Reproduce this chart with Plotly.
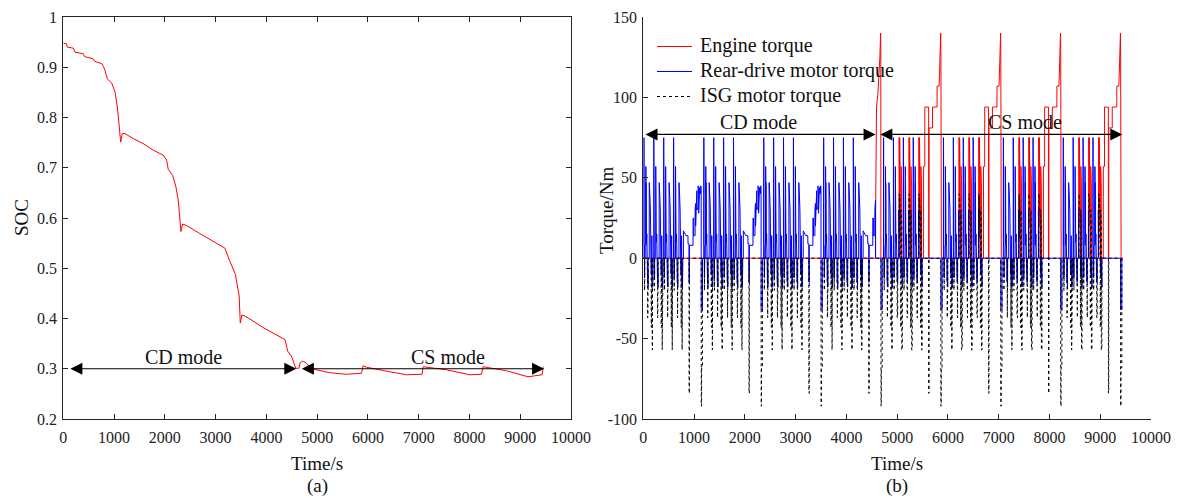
import plotly.graph_objects as go

W, H = 1187, 498
FONT = "Liberation Serif"
AX = "#262626"

# ---------------- (a) SOC data ----------------
SOC_T = [0, 60, 80, 200, 230, 390, 420, 585, 615, 760, 788, 821, 866, 952, 1018, 1064, 1103,
         1130, 1162, 1215, 1378, 1575, 1772, 1969, 2035, 2067, 2153, 2218, 2264, 2297, 2317,
         2350, 2429, 2691, 2953, 3183, 3276, 3389, 3464, 3486, 3517, 3577, 3953, 4292, 4367,
         4420, 4495, 4578, 4640, 4665, 4713, 4738, 4791, 4857, 4988, 5250, 5579, 5874, 5906,
         5972, 6431, 6760, 7067, 7087, 7547, 8006, 8236, 8268, 8728, 9154, 9430, 9455]
SOC_V = [0.948, 0.947, 0.940, 0.938, 0.930, 0.927, 0.921, 0.917, 0.912, 0.907, 0.902, 0.894,
         0.877, 0.869, 0.851, 0.821, 0.781, 0.751, 0.768, 0.768, 0.758, 0.748, 0.735, 0.725,
         0.715, 0.697, 0.685, 0.662, 0.636, 0.602, 0.573, 0.588, 0.585, 0.569, 0.553, 0.540,
         0.515, 0.488, 0.445, 0.391, 0.407, 0.405, 0.381, 0.361, 0.358, 0.335, 0.325, 0.301,
         0.301, 0.312, 0.315, 0.314, 0.311, 0.301, 0.298, 0.292, 0.289, 0.291, 0.306, 0.303,
         0.294, 0.288, 0.289, 0.304, 0.298, 0.288, 0.289, 0.304, 0.296, 0.284, 0.288, 0.303]

# ---------------- (b) torque data ----------------
# the run is 8 repeated drive cycles; one cycle = 4 urban segments + 1 extra-urban part
CYCLE_STARTS = [0, 1180, 2360, 3540, 4720, 5900, 7080, 8260]
SEG_STARTS = [0, 195, 390, 585]
EUDC_START = 780

# CD-mode urban segment
CD_SEG_BLUE_T = [0, 11, 12, 14, 15, 22, 23, 27, 28, 49, 50, 52, 53, 54, 55, 58, 60, 61, 70, 71,
                 78, 84, 85, 90, 95, 96, 117, 118, 120, 121, 122, 128, 129, 130, 131, 140, 143,
                 148, 149, 154, 155, 162, 163, 168, 169, 175, 176, 187, 188, 195]
CD_SEG_BLUE_V = [0, 0, 75, 70, 8, 8, -12, -12, 0, 0, 57, 52, 8, 8, 47, 40, 15, 10, 15, 6,
                 12, 10, -15, -8, -18, 0, 0, 47, 42, 10, 40, 30, 10, 10, 38, 30, 12,
                 18, 5, 12, -10, -10, 8, 14, 4, 8, -18, -18, 0, 0]
CD_SEG_ISG_T = [0, 23, 24, 27, 28, 85, 86, 90, 91, 95, 96, 155, 156, 162, 163, 176, 177, 180,
                181, 187, 188, 195]
CD_SEG_ISG_V = [0, 0, -20, -20, 0, 0, -37, -37, -22, -22, 0, 0, -43, -43, 0, 0, -57, -57, -18,
                -18, 0, 0]

# CD-mode extra-urban part
CD_EU_BLUE_T = [0, 10, 11, 60, 100, 101, 120, 121, 128, 129, 200, 201, 212, 213, 240, 241, 250,
                251, 260, 275, 276, 300, 301, 310, 311, 320, 330, 345, 355, 360, 361, 385, 386,
                400]
CD_EU_BLUE_V = [0, 0, 17, 14, 14, 9, 9, -15, -15, 8, 8, 25, 25, 14, 14, 30, 34, 20, 38, 42, 30,
                32, 45, 40, 28, 42, 44, 40, 45, 42, -32, -32, 0, 0]
EU_ISG_T = [0, 121, 122, 128, 129, 361, 362, 368, 369, 385, 386, 400]
EU_ISG_V = [0, 0, -84, -84, 0, 0, -92, -92, -68, -68, 0, 0]

# switch-over extra-urban part (cycle 4): engine starts when SOC reaches 0.3
SW_EU_BLUE_T = [0, 10, 11, 60, 100, 101, 120, 121, 128, 129, 200, 201, 212, 213, 240, 241, 254,
                255, 361, 362, 385, 386, 400]
SW_EU_BLUE_V = [0, 0, 17, 14, 14, 9, 9, -15, -15, 8, 8, 25, 25, 14, 14, 30, 36, 0, 0, -32, -32,
                0, 0]
SW_EU_ENG_T = [0, 255, 256, 274, 300, 320, 340, 354, 358, 360, 400]
SW_EU_ENG_V = [0, 0, 30, 94, 102, 112, 125, 140, 130, 0, 0]

# CS-mode urban segment (engine on)
CS_SEG_BLUE_T = [0, 11, 12, 14, 15, 22, 23, 27, 28, 49, 50, 52, 53, 54, 55, 58, 60, 61, 70, 71,
                 78, 84, 85, 95, 96, 117, 118, 124, 125, 155, 156, 162, 163, 176, 177, 187, 188,
                 195]
CS_SEG_BLUE_V = [0, 0, 75, 70, 8, 8, -12, -12, 0, 0, 57, 52, 8, 8, 47, 40, 15, 10, 15, 6,
                 12, 10, -15, -15, 0, 0, 30, 25, 0, 0, -10, -10, 0, 0, -18, -18, 0, 0]
CS_SEG_ENG_T = [0, 124, 125, 130, 131, 135, 140, 143, 154, 155, 162, 163, 170, 175, 176, 195]
CS_SEG_ENG_V = [0, 0, 75, 60, 20, 75, 57, 57, 44, 0, 0, 57, 50, 44, 0, 0]
CS_SEG_ISG_T = [0, 23, 24, 27, 28, 85, 86, 95, 96, 124, 125, 130, 131, 135, 143, 154, 155, 162,
                163, 175, 176, 187, 188, 195]
CS_SEG_ISG_V = [0, 0, -20, -20, 0, 0, -37, -37, 0, 0, 40, 27, 12, 38, 30, 27, -43, -43, 30, 20,
                -57, -57, 0, 0]

# CS-mode extra-urban part
CS_EU_ENG_T = [0, 20, 21, 44, 45, 120, 121, 128, 129, 196, 197, 286, 287, 326, 335, 345, 352,
               358, 362, 366, 370, 371, 400]
CS_EU_ENG_V = [0, 0, 57, 57, 94, 94, 0, 0, 81, 81, 94, 94, 107, 107, 115, 125, 135, 140, 125,
               57, 57, 0, 0]
CS_EU_BLUE_T = [0, 361, 362, 385, 386, 400]
CS_EU_BLUE_V = [0, 0, -32, -32, 0, 0]

ZERO_T = [0, 195]
ZERO_V = [0, 0]

# which pieces make up each cycle
CYCLE_SEGS = [["cd"] * 4, ["cd"] * 4, ["cd"] * 4, ["cd"] * 4,
              ["cd", "cs", "cs", "cs"], ["cd", "cs", "cs", "cs"],
              ["cd", "cs", "cs", "cs"], ["cd", "cs", "cs", "cs"]]
CYCLE_EU = ["cd", "cd", "cd", "sw", "cs", "cs", "cs", "cs"]

SEG = {
    "cd": {"eng": (ZERO_T, ZERO_V), "blue": (CD_SEG_BLUE_T, CD_SEG_BLUE_V),
           "isg": (CD_SEG_ISG_T, CD_SEG_ISG_V)},
    "cs": {"eng": (CS_SEG_ENG_T, CS_SEG_ENG_V), "blue": (CS_SEG_BLUE_T, CS_SEG_BLUE_V),
           "isg": (CS_SEG_ISG_T, CS_SEG_ISG_V)},
}
EU = {
    "cd": {"eng": ([0, 400], [0, 0]), "blue": (CD_EU_BLUE_T, CD_EU_BLUE_V),
           "isg": (EU_ISG_T, EU_ISG_V)},
    "sw": {"eng": (SW_EU_ENG_T, SW_EU_ENG_V), "blue": (SW_EU_BLUE_T, SW_EU_BLUE_V),
           "isg": (EU_ISG_T, EU_ISG_V)},
    "cs": {"eng": (CS_EU_ENG_T, CS_EU_ENG_V), "blue": (CS_EU_BLUE_T, CS_EU_BLUE_V),
           "isg": (EU_ISG_T, EU_ISG_V)},
}

LEGEND_NAMES = ["Engine torque", "Rear-drive motor torque", "ISG motor torque"]


def series(key):
    xs, ys = [], []
    for c, start in enumerate(CYCLE_STARTS):
        for s, off in enumerate(SEG_STARTS):
            tt, vv = SEG[CYCLE_SEGS[c][s]][key]
            xs += [start + off + t for t in tt]
            ys += list(vv)
        tt, vv = EU[CYCLE_EU[c]][key]
        xs += [start + EUDC_START + t for t in tt]
        ys += list(vv)
    return xs, ys


eng_t, eng_v = series("eng")
blue_t, blue_v = series("blue")
isg_t, isg_v = series("isg")

# ---------------- figure ----------------
L0, L1 = 63.3, 571.0
R0, R1 = 643.3, 1151.0
TOP, BOT = 17, 419


def px(x):
    return x / W


def py(y):
    return (BOT - y) / (BOT - TOP)


fig = go.Figure()
fig.add_trace(go.Scatter(x=SOC_T, y=SOC_V, mode="lines", line=dict(color="#ff0000", width=1),
                         xaxis="x", yaxis="y", showlegend=False))
fig.add_trace(go.Scatter(x=eng_t, y=eng_v, mode="lines", name=LEGEND_NAMES[0],
                         line=dict(color="#ff0000", width=1), xaxis="x2", yaxis="y2",
                         showlegend=False))
fig.add_trace(go.Scatter(x=blue_t, y=blue_v, mode="lines", name=LEGEND_NAMES[1],
                         line=dict(color="#0000ff", width=1), xaxis="x2", yaxis="y2",
                         showlegend=False))
fig.add_trace(go.Scatter(x=isg_t, y=isg_v, mode="lines", name=LEGEND_NAMES[2],
                         line=dict(color="#000000", width=1, dash="dot"), xaxis="x2", yaxis="y2",
                         showlegend=False))

XT = list(range(0, 10001, 1000))
axis_common = dict(showgrid=False, zeroline=False, showline=True, linecolor=AX, linewidth=1,
                   ticks="inside", ticklen=5, tickcolor=AX, tickwidth=1,
                   tickfont=dict(family=FONT, size=16, color="#222"))

fig.update_layout(
    width=W, height=H, margin=dict(l=0, r=0, t=TOP, b=H - BOT, autoexpand=False),
    paper_bgcolor="white", plot_bgcolor="white",
    xaxis=dict(domain=[px(L0), px(L1)], range=[0, 10000], tickvals=XT,
               ticktext=[str(v) for v in XT], mirror="ticks", anchor="y",
               ticklabelstandoff=4, **axis_common),
    yaxis=dict(domain=[0, 1], range=[0.2, 1.0], tickvals=[0.2, 0.3, 0.4, 0.5, 0.6, 0.7, 0.8, 0.9, 1.0],
               ticktext=["0.2", "0.3", "0.4", "0.5", "0.6", "0.7", "0.8", "0.9", "1"],
               mirror="ticks", anchor="x", ticklabelstandoff=2, **axis_common),
    xaxis2=dict(domain=[px(R0), px(R1)], range=[0, 10000], tickvals=XT,
                ticktext=[str(v) for v in XT], anchor="y2", ticklabelstandoff=4, **axis_common),
    yaxis2=dict(domain=[0, 1], range=[-100, 150], tickvals=[-100, -50, 0, 50, 100, 150],
                ticktext=["-100", "-50", "0", "50", "100", "150"], anchor="x2",
                ticklabelstandoff=2, **axis_common),
    showlegend=False,
)

ann = []
shapes = []


def text(x, y, s, size=19, angle=0, anchor="center"):
    ann.append(dict(x=px(x), y=py(y), xref="paper", yref="paper", text=s, showarrow=False,
                    textangle=angle, font=dict(family=FONT, size=size, color="#111"),
                    xanchor=anchor, yanchor="middle"))


def darrow(xr, yr, x0, x1, y):
    ann.append(dict(x=x1, y=y, ax=x0, ay=y, xref=xr, yref=yr, axref=xr, ayref=yr, text="",
                    showarrow=True, arrowhead=2, startarrowhead=2, arrowside="end+start",
                    arrowsize=2.0, startarrowsize=2.0, arrowwidth=1.2, arrowcolor="#000"))


text(317, 463, "Time/s")
text(317, 486, "(a)")
text(897, 463, "Time/s")
text(897, 486, "(b)")
text(21, 218, "SOC", angle=-90)
text(606, 210, "Torque/Nm", angle=-90)

# legend drawn by hand (top-left inside panel b)
LEG_COLORS = ["#ff0000", "#0000ff", "#000000"]
LEG_DASH = ["solid", "solid", "dot"]
for i, name in enumerate(LEGEND_NAMES):
    yy = 46.5 + 25 * i
    shapes.append(dict(type="line", xref="paper", yref="paper", x0=px(657), x1=px(692),
                       y0=py(yy), y1=py(yy), line=dict(color=LEG_COLORS[i], width=1.2,
                                                       dash=LEG_DASH[i])))
    text(698, yy - 1, name, size=20, anchor="left")

darrow("x", "y", 110, 4590, 0.3)
darrow("x", "y", 4670, 9470, 0.3)
ann.append(dict(x=2364, y=0.323, xref="x", yref="y", text="CD mode", showarrow=False,
                font=dict(family=FONT, size=20, color="#111")))
ann.append(dict(x=7568, y=0.323, xref="x", yref="y", text="CS mode", showarrow=False,
                font=dict(family=FONT, size=20, color="#111")))

darrow("x2", "y2", 14, 4575, 77)
darrow("x2", "y2", 4640, 9435, 77)
ann.append(dict(x=2275, y=85, xref="x2", yref="y2", text="CD mode", showarrow=False,
                font=dict(family=FONT, size=20, color="#111")))
ann.append(dict(x=7527, y=85, xref="x2", yref="y2", text="CS mode", showarrow=False,
                font=dict(family=FONT, size=20, color="#111")))

fig.update_layout(annotations=ann, shapes=shapes)
fig.write_html("out.html", config={"displayModeBar": False},
               post_script="document.body.style.margin='0px';"
                           "document.body.style.overflow='hidden';")
